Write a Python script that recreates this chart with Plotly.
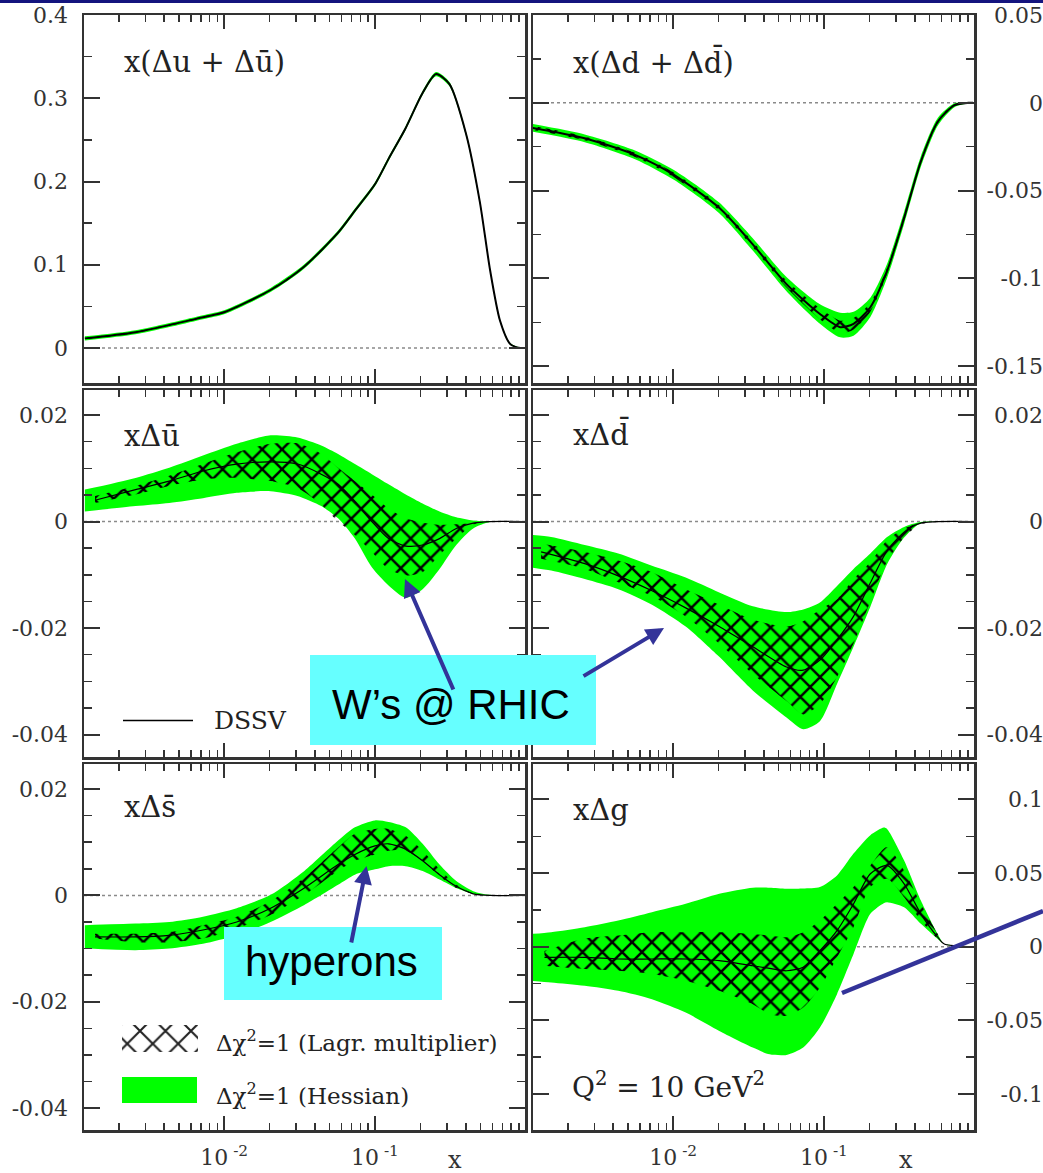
import plotly.graph_objects as go

W, H = 1043, 1173

# ---------------- data ----------------
# Panel 1: x(Δu + Δū)
up_x = [0.00119, 0.00258, 0.00723, 0.0101, 0.0203, 0.034, 0.0569, 0.0736, 0.1002, 0.1233,
        0.1596, 0.2065, 0.2541, 0.3119, 0.4036, 0.4966, 0.5794, 0.6745, 0.787, 0.9204, 0.9683]
up_c = [0.0116, 0.019, 0.037, 0.0433, 0.0697, 0.098, 0.1386, 0.165, 0.197, 0.2275,
        0.264, 0.306, 0.329, 0.317, 0.256, 0.175, 0.094, 0.033, 0.005, 0.0, 0.0]
up_hess_hi = [0.0141, 0.0215, 0.0395, 0.0458, 0.0722, 0.1005, 0.1411, 0.1675, 0.1995, 0.2300,
              0.2665, 0.3085, 0.3315, 0.3195, 0.2585, 0.1775, 0.0960, 0.0345, 0.0060, 0.0005, 0.0003]
up_hess_lo = [0.0091, 0.0165, 0.0345, 0.0408, 0.0672, 0.0955, 0.1361, 0.1625, 0.1945, 0.2250,
              0.2615, 0.3035, 0.3265, 0.3145, 0.2535, 0.1725, 0.0920, 0.0315, 0.0040, -0.0005, -0.0003]
up_lag_hi = [0.0126, 0.0200, 0.0380, 0.0443, 0.0707, 0.0990, 0.1396, 0.1660, 0.1980, 0.2285,
             0.2650, 0.3070, 0.3300, 0.3180, 0.2570, 0.1760, 0.0950, 0.0340, 0.0055, 0.0, 0.0]
up_lag_lo = [0.0106, 0.0180, 0.0360, 0.0423, 0.0687, 0.0970, 0.1376, 0.1640, 0.1960, 0.2265,
             0.2630, 0.3050, 0.3280, 0.3160, 0.2550, 0.1740, 0.0930, 0.0320, 0.0045, 0.0, 0.0]

# Panel 2: x(Δd + Δd̄)
dp_x = [0.00114, 0.00259, 0.00558, 0.0101, 0.0202, 0.0337, 0.0564, 0.094, 0.128, 0.157,
        0.203, 0.262, 0.34, 0.439, 0.568, 0.733, 0.902, 0.973]
dp_c = [-0.0141, -0.0202, -0.0296, -0.0410, -0.0598, -0.0806, -0.1032, -0.1202, -0.1277, -0.1258,
        -0.1164, -0.0957, -0.0655, -0.0334, -0.0108, -0.0013, 0.0, 0.0]
dp_hess_hi = [-0.0119, -0.0180, -0.0271, -0.0382, -0.0568, -0.0771, -0.0992, -0.1147, -0.1195, -0.1190,
              -0.1109, -0.0917, -0.0620, -0.0304, -0.0086, -0.0003, 0.0003, 0.0002]
dp_hess_lo = [-0.0163, -0.0224, -0.0321, -0.0438, -0.0628, -0.0841, -0.1072, -0.1257, -0.1335, -0.1326,
              -0.1219, -0.0997, -0.0690, -0.0364, -0.0130, -0.0025, -0.0004, -0.0003]
dp_lag_hi = [-0.0130, -0.0191, -0.0284, -0.0397, -0.0584, -0.0790, -0.1012, -0.1170, -0.1240, -0.1225,
             -0.1138, -0.0940, -0.0640, -0.0322, -0.0098, -0.0007, 0.0, 0.0]
dp_lag_lo = [-0.0152, -0.0213, -0.0308, -0.0423, -0.0612, -0.0822, -0.1052, -0.1232, -0.1310, -0.1292,
             -0.1190, -0.0975, -0.0670, -0.0346, -0.0118, -0.0019, -0.0002, 0.0]

# Panel 3: xΔū
ub_hx = [0.00119, 0.00258, 0.00432, 0.00723, 0.0121, 0.0203, 0.0306, 0.044, 0.0569, 0.0736,
         0.0953, 0.123, 0.160, 0.207, 0.268, 0.346, 0.448, 0.579, 0.968]
ub_hess_hi = [0.0060, 0.0082, 0.0101, 0.0124, 0.0146, 0.0162, 0.0158, 0.0143, 0.0127, 0.0108,
              0.0089, 0.0070, 0.0051, 0.0034, 0.0019, 0.0008, 0.0002, 0.0, 0.0]
ub_hess_lo = [0.0019, 0.0029, 0.0035, 0.0044, 0.0054, 0.0057, 0.0048, 0.0029, 0.0006, -0.0032,
              -0.0086, -0.0120, -0.0143, -0.0127, -0.0089, -0.0044, -0.0013, -0.0001, 0.0]
ub_x = [0.00139, 0.00258, 0.00432, 0.00723, 0.0121, 0.0203, 0.0306, 0.044, 0.0569, 0.0736,
        0.0953, 0.123, 0.160, 0.207, 0.268, 0.346, 0.448, 0.579, 0.968]
ub_c = [0.0040, 0.0060, 0.0076, 0.0095, 0.0108, 0.0112, 0.0108, 0.0089, 0.0070, 0.0038,
        0.0000, -0.0032, -0.0046, -0.0044, -0.0032, -0.0013, -0.0003, 0.0, 0.0]
ub_lag_hi = [0.0048, 0.0067, 0.0086, 0.0108, 0.0130, 0.0146, 0.0147, 0.0127, 0.0101, 0.0076,
             0.0051, 0.0025, 0.0006, -0.0002, -0.0006, -0.0005, -0.0003, 0.0, 0.0]
ub_lag_lo = [0.0035, 0.0051, 0.0067, 0.0079, 0.0082, 0.0076, 0.0063, 0.0032, 0.0, -0.0025,
             -0.0057, -0.0089, -0.0101, -0.0095, -0.0063, -0.0032, -0.0006, 0.0, 0.0]

# Panel 4: xΔd̄
db_hx = [0.00114, 0.00155, 0.00259, 0.00432, 0.00723, 0.0121, 0.0202, 0.0337, 0.0564, 0.0728,
         0.094, 0.122, 0.157, 0.203, 0.262, 0.34, 0.439, 0.973]
db_hess_hi = [-0.0025, -0.0029, -0.0044, -0.0060, -0.0083, -0.0105, -0.0133, -0.0159, -0.0170, -0.0165,
              -0.0152, -0.0121, -0.0089, -0.0060, -0.0029, -0.0010, -0.0001, 0.0]
db_hess_lo = [-0.0086, -0.0092, -0.0108, -0.0127, -0.0156, -0.0197, -0.0254, -0.0317, -0.0368, -0.0390,
              -0.0375, -0.0305, -0.0235, -0.0160, -0.0080, -0.0030, -0.0003, 0.0]
db_x = [0.00133, 0.00259, 0.00432, 0.00723, 0.0121, 0.0202, 0.0337, 0.0564, 0.0728, 0.094,
        0.122, 0.157, 0.203, 0.262, 0.34, 0.439, 0.973]
db_c = [-0.0057, -0.0079, -0.0102, -0.0130, -0.0162, -0.0197, -0.0235, -0.0273, -0.0279, -0.0260,
        -0.0222, -0.0178, -0.0115, -0.0055, -0.0020, -0.0003, 0.0]
db_lag_hi = [-0.0041, -0.0057, -0.0073, -0.0095, -0.0127, -0.0156, -0.0184, -0.0197, -0.0187, -0.0165,
             -0.0146, -0.0108, -0.0076, -0.0035, -0.0013, -0.0002, 0.0]
db_lag_lo = [-0.0070, -0.0089, -0.0114, -0.0140, -0.0178, -0.0229, -0.0286, -0.0337, -0.0362, -0.0343,
             -0.0292, -0.0229, -0.0150, -0.0075, -0.0030, -0.0005, 0.0]

# Panel 5: xΔs̄
sb_hx = [0.00119, 0.00258, 0.00432, 0.00723, 0.0121, 0.0203, 0.034, 0.0569, 0.0736, 0.1,
         0.123, 0.160, 0.207, 0.268, 0.346, 0.448, 0.579, 0.968]
sb_hess_hi = [-0.0056, -0.0053, -0.0050, -0.0040, -0.0024, 0.0001, 0.0046, 0.0103, 0.0128, 0.0141,
              0.0138, 0.0128, 0.0097, 0.0058, 0.0027, 0.0008, 0.0001, 0.0]
sb_hess_lo = [-0.0100, -0.0103, -0.0100, -0.0091, -0.0075, -0.0050, -0.0018, 0.0020, 0.0039, 0.0049,
              0.0055, 0.0055, 0.0046, 0.0030, 0.0014, 0.0003, 0.0, 0.0]
sb_x = [0.00139, 0.00258, 0.00432, 0.00723, 0.0121, 0.0203, 0.034, 0.0569, 0.0736, 0.1,
        0.123, 0.160, 0.207, 0.268, 0.346, 0.448, 0.579, 0.968]
sb_c = [-0.0078, -0.0078, -0.0075, -0.0065, -0.0050, -0.0024, 0.0014, 0.0058, 0.0077, 0.0093,
        0.0097, 0.0087, 0.0065, 0.0039, 0.0017, 0.0003, 0.0, 0.0]
sb_lag_hi = [-0.0072, -0.0072, -0.0069, -0.0056, -0.0040, -0.0011, 0.0033, 0.0090, 0.0116, 0.0125,
             0.0125, 0.0112, 0.0084, 0.0049, 0.0020, 0.0004, 0.0, 0.0]
sb_lag_lo = [-0.0081, -0.0088, -0.0088, -0.0081, -0.0062, -0.0037, 0.0001, 0.0046, 0.0065, 0.0077,
             0.0084, 0.0084, 0.0065, 0.0036, 0.0014, 0.0003, 0.0, 0.0]

# Panel 6: xΔg
g_hx = [0.00114, 0.00155, 0.00259, 0.00432, 0.00723, 0.0121, 0.0202, 0.0337, 0.0436, 0.0564,
        0.0728, 0.094, 0.122, 0.157, 0.203, 0.249, 0.262, 0.34, 0.439, 0.568, 0.628, 0.973]
g_hess_hi = [0.0086, 0.0098, 0.0132, 0.0177, 0.0234, 0.0291, 0.0359, 0.0400, 0.0400, 0.0393,
             0.0395, 0.0405, 0.0484, 0.0632, 0.0757, 0.0809, 0.0800, 0.0586, 0.0314, 0.0086, 0.0018, 0.0]
g_hess_lo = [-0.0232, -0.0243, -0.0266, -0.0300, -0.0357, -0.0448, -0.0573, -0.0686, -0.0732, -0.0736,
             -0.0686, -0.0550, -0.0323, -0.0050, 0.0223, 0.0295, 0.0302, 0.0268, 0.0155, 0.0052, 0.0018, 0.0]
g_x = [0.0014, 0.00259, 0.00432, 0.00723, 0.0121, 0.0202, 0.0337, 0.0436, 0.0564, 0.0728,
       0.094, 0.122, 0.157, 0.203, 0.262, 0.34, 0.439, 0.568, 0.628, 0.973]
g_c = [-0.0073, -0.0073, -0.0084, -0.0084, -0.0084, -0.0095, -0.0130, -0.0148, -0.0164, -0.0140,
       -0.0027, 0.0109, 0.0290, 0.0495, 0.0552, 0.0427, 0.0223, 0.0064, 0.0018, 0.0]
g_lag_hi = [-0.0030, 0.0055, 0.0075, 0.0098, 0.0098, 0.0098, 0.0086, 0.0075, 0.0064, 0.0098,
            0.0177, 0.0291, 0.0405, 0.0552, 0.0677, 0.0518, 0.0291, 0.0086, 0.0018, 0.0]
g_lag_lo = [-0.0130, -0.0152, -0.0164, -0.0186, -0.0232, -0.0300, -0.0391, -0.0459, -0.0470, -0.0414,
            -0.0277, -0.0073, 0.0132, 0.0405, 0.0461, 0.0336, 0.0177, 0.0052, 0.0018, 0.0]

panel_labels = ["x(Δu + Δū)", "x(Δd + Δd\u0304)", "xΔū", "xΔd\u0304", "xΔs\u0304", "xΔg"]

y_ranges = [[-0.042, 0.4], [-0.1595, 0.05], [-0.0442, 0.0247],
            [-0.0442, 0.0247], [-0.0441, 0.0247], [-0.1246, 0.1241]]
y_tickvals = [[0, 0.1, 0.2, 0.3, 0.4], [0.05, 0, -0.05, -0.1, -0.15], [0.02, 0, -0.02, -0.04],
              [0.02, 0, -0.02, -0.04], [0.02, 0, -0.02, -0.04], [0.1, 0.05, 0, -0.05, -0.1]]
y_ticktext = [["0", "0.1", "0.2", "0.3", "0.4"], ["0.05", "0", "-0.05", "-0.1", "-0.15"],
              ["0.02", "0", "-0.02", "-0.04"], ["0.02", "0", "-0.02", "-0.04"],
              ["0.02", "0", "-0.02", "-0.04"], ["0.1", "0.05", "0", "-0.05", "-0.1"]]
y_minor = [0.05, 0.025, 0.005, 0.005, 0.005, 0.025]

x_tickvals = [0.01, 0.1]
x_ticktext = ["10<sup> -2</sup>", "10<sup> -1</sup>"]

panels = [
    dict(hx=up_x, hhi=up_hess_hi, hlo=up_hess_lo, x=up_x, c=up_c, lhi=up_lag_hi, llo=up_lag_lo, lw=2.0),
    dict(hx=dp_x, hhi=dp_hess_hi, hlo=dp_hess_lo, x=dp_x, c=dp_c, lhi=dp_lag_hi, llo=dp_lag_lo, lw=2.0),
    dict(hx=ub_hx, hhi=ub_hess_hi, hlo=ub_hess_lo, x=ub_x, c=ub_c, lhi=ub_lag_hi, llo=ub_lag_lo, lw=1.2),
    dict(hx=db_hx, hhi=db_hess_hi, hlo=db_hess_lo, x=db_x, c=db_c, lhi=db_lag_hi, llo=db_lag_lo, lw=1.2),
    dict(hx=sb_hx, hhi=sb_hess_hi, hlo=sb_hess_lo, x=sb_x, c=sb_c, lhi=sb_lag_hi, llo=sb_lag_lo, lw=1.2),
    dict(hx=g_hx, hhi=g_hess_hi, hlo=g_hess_lo, x=g_x, c=g_c, lhi=g_lag_hi, llo=g_lag_lo, lw=1.2),
]

# ---------------- layout geometry (pixels) ----------------
COLS = [(84, 525), (533, 974)]
ROWS = [(15, 383), (390, 757), (764, 1130)]


def fx(p):
    return p / W


def fy(p):
    return 1 - p / H


GREEN = "#00ff00"
NAVY = "#333399"
AXC = "#333333"
SERIF = "DejaVu Serif"
SPL = dict(shape="spline", smoothing=0.7)

fig = go.Figure()
layout = dict(width=W, height=H, autosize=False, margin=dict(l=0, r=0, t=0, b=0, pad=0),
              paper_bgcolor="white", plot_bgcolor="rgba(0,0,0,0)", showlegend=False)

minor_x = [k * d for d in (0.001, 0.01, 0.1) for k in range(2, 10)]

shapes = []
annotations = []

for i, p in enumerate(panels):
    n = i + 1
    r, c = divmod(i, 2)
    xs = "" if n == 1 else str(n)
    xa, ya = "x" + xs, "y" + xs
    # Hessian band
    fig.add_trace(go.Scatter(x=p["hx"] + p["hx"][::-1], y=p["hhi"] + p["hlo"][::-1],
                             fill="toself", fillcolor=GREEN, line=dict(width=0, **SPL),
                             mode="lines", xaxis=xa, yaxis=ya, hoverinfo="skip"))
    # Lagrange multiplier band (hatched)
    fig.add_trace(go.Scatter(x=p["x"] + p["x"][::-1], y=p["lhi"] + p["llo"][::-1],
                             fill="toself", fillcolor="rgba(0,0,0,0)",
                             fillpattern=dict(shape="x", fgcolor="#000000", fgopacity=1,
                                              bgcolor="rgba(0,0,0,0)", size=14, solidity=0.32),
                             line=dict(width=0, **SPL), mode="lines", xaxis=xa, yaxis=ya,
                             hoverinfo="skip"))
    # DSSV central line
    fig.add_trace(go.Scatter(x=p["x"], y=p["c"], mode="lines",
                             line=dict(color="black", width=p["lw"], **SPL),
                             xaxis=xa, yaxis=ya, hoverinfo="skip"))

    x0, x1 = COLS[c]
    y0, y1 = ROWS[r]
    layout["xaxis" + xs] = dict(
        type="log", range=[-2.93, -0.005], domain=[fx(x0), fx(x1)], anchor=ya,
        showline=True, linewidth=2.5, linecolor=AXC, mirror="ticks",
        ticks="inside", ticklen=14, tickwidth=2, tickcolor=AXC,
        tickvals=x_tickvals, ticktext=x_ticktext, showticklabels=(r == 2),
        tickfont=dict(family=SERIF, size=22, color="#333"), ticklabelstandoff=6,
        minor=dict(tickvals=minor_x, ticks="inside", ticklen=7, tickwidth=1.5, tickcolor=AXC),
        showgrid=False, zeroline=False, automargin=False)
    layout["yaxis" + xs] = dict(
        range=y_ranges[i], domain=[fy(y1), fy(y0)], anchor=xa,
        side="left" if c == 0 else "right",
        showline=True, linewidth=2.5, linecolor=AXC, mirror="ticks",
        ticks="inside", ticklen=16, tickwidth=2, tickcolor=AXC,
        tickvals=y_tickvals[i], ticktext=y_ticktext[i], showticklabels=(c == 0),
        tickfont=dict(family=SERIF, size=22, color="#333"), ticklabelstandoff=9,
        minor=dict(dtick=y_minor[i], ticks="inside", ticklen=8, tickwidth=1.5, tickcolor=AXC),
        showgrid=False, zeroline=False, automargin=False)

    # dotted zero line
    shapes.append(dict(type="line", xref=xa + " domain", x0=0, x1=1, yref=ya, y0=0, y1=0,
                       line=dict(color="#8a8a8a", width=1.5, dash="dot"), layer="below"))

    # panel label
    lab_y = [62, 62, 436, 434, 807, 810][i]
    annotations.append(dict(text=panel_labels[i], xref="paper", yref="paper",
                            x=fx(x0 + 38), y=fy(lab_y), xanchor="left", yanchor="middle",
                            showarrow=False, font=dict(family=SERIF, size=29, color="#222")))

# right-column tick labels (right aligned at the figure edge)
for k, base in zip((7, 8, 9), (2, 4, 6)):
    i = base - 1
    r = i // 2
    y0, y1 = ROWS[r]
    layout["yaxis%d" % k] = dict(
        range=y_ranges[i], domain=[fy(y1), fy(y0)], overlaying="y%d" % base,
        anchor="free", position=1.0, side="left", showline=False, ticks="",
        tickvals=y_tickvals[i], ticktext=y_ticktext[i],
        tickfont=dict(family=SERIF, size=22, color="#333"), ticklabelstandoff=0,
        showgrid=False, zeroline=False, automargin=False)
    fig.add_trace(go.Scatter(x=[None], y=[None], xaxis="x%d" % base, yaxis="y%d" % k,
                             mode="lines", hoverinfo="skip"))

# decoration axes covering the whole figure in pixel units (legend swatch)
layout["xaxis10"] = dict(domain=[0, 1], range=[0, W], visible=False, anchor="y10", fixedrange=True)
layout["yaxis10"] = dict(domain=[0, 1], range=[H, 0], visible=False, anchor="x10", fixedrange=True)
sw_x = [122, 198, 198, 122, 122]
sw_y = [1025, 1025, 1052, 1052, 1025]
fig.add_trace(go.Scatter(x=sw_x, y=sw_y, fill="toself", fillcolor="rgba(0,0,0,0)",
                         fillpattern=dict(shape="x", fgcolor="#222", fgopacity=1,
                                          bgcolor="rgba(0,0,0,0)", size=18, solidity=0.22),
                         line=dict(width=0), mode="lines", xaxis="x10", yaxis="y10", hoverinfo="skip"))

# legend pieces
shapes.append(dict(type="rect", xref="paper", yref="paper", x0=fx(122), x1=fx(197),
                   y0=fy(1103), y1=fy(1077), fillcolor=GREEN, line=dict(width=0)))
shapes.append(dict(type="line", xref="paper", yref="paper", x0=fx(123), x1=fx(193),
                   y0=fy(720.5), y1=fy(720.5), line=dict(color="black", width=1.5)))
annotations += [
    dict(text="Δχ<sup>2</sup>=1 (Lagr. multiplier)", x=fx(214), y=fy(1041)),
    dict(text="Δχ<sup>2</sup>=1 (Hessian)", x=fx(214), y=fy(1094)),
    dict(text="DSSV", x=fx(212), y=fy(720)),
    dict(text="Q<sup>2</sup> = 10 GeV<sup>2</sup>", x=fx(570), y=fy(1085)),
]
for a in annotations[-4:]:
    a.update(xref="paper", yref="paper", xanchor="left", yanchor="middle", showarrow=False,
             font=dict(family=SERIF, size=23, color="#222"))
annotations[-2]["font"] = dict(family=SERIF, size=25, color="#222")
annotations[-1]["font"] = dict(family=SERIF, size=28, color="#222")

# axis titles "x"
for xp in (455, 906):
    annotations.append(dict(text="x", xref="paper", yref="paper", x=fx(xp), y=fy(1160),
                            xanchor="center", yanchor="middle", showarrow=False,
                            font=dict(family=SERIF, size=24, color="#333")))

# top navy bar
shapes.append(dict(type="rect", xref="paper", yref="paper", x0=0, x1=1, y0=fy(3), y1=1,
                   fillcolor="#14147e", line=dict(width=0)))

# cyan callout boxes
shapes.append(dict(type="rect", xref="paper", yref="paper", x0=fx(310), x1=fx(596),
                   y0=fy(745), y1=fy(655), fillcolor="#66ffff", line=dict(width=0), layer="above"))
shapes.append(dict(type="rect", xref="paper", yref="paper", x0=fx(224), x1=fx(442),
                   y0=fy(1000), y1=fy(927), fillcolor="#66ffff", line=dict(width=0), layer="above"))
annotations.append(dict(text="W’s @ RHIC", xref="paper", yref="paper", x=fx(451), y=fy(704),
                        xanchor="center", yanchor="middle", showarrow=False,
                        font=dict(family="Liberation Sans", size=42, color="black")))
annotations.append(dict(text="hyperons", xref="paper", yref="paper", x=fx(331), y=fy(961),
                        xanchor="center", yanchor="middle", showarrow=False,
                        font=dict(family="Liberation Sans", size=42, color="black")))

# arrows
for tip, tail in [((405, 579), (454, 691)), ((664, 628), (582, 677)), ((366.5, 866), (351, 944))]:
    annotations.append(dict(text="", xref="paper", yref="paper", x=fx(tip[0]), y=fy(tip[1]),
                            ax=tail[0] - tip[0], ay=tail[1] - tip[1], axref="pixel", ayref="pixel",
                            showarrow=True, arrowhead=2, arrowsize=0.9, arrowwidth=4,
                            arrowcolor=NAVY, standoff=0, startstandoff=0))

# line pointing off the slide from the gluon panel
shapes.append(dict(type="line", xref="paper", yref="paper", x0=fx(842), y0=fy(993),
                   x1=fx(1043), y1=fy(911), line=dict(color=NAVY, width=4.5), layer="above"))

layout["shapes"] = shapes
layout["annotations"] = annotations
fig.update_layout(**layout)
fig.write_html("out.html", config={"displayModeBar": False, "staticPlot": True},
               post_script="document.body.style.margin='0px';document.body.style.padding='0px';"
                           "document.body.style.overflow='hidden';"
                           "document.documentElement.style.overflow='hidden';")
